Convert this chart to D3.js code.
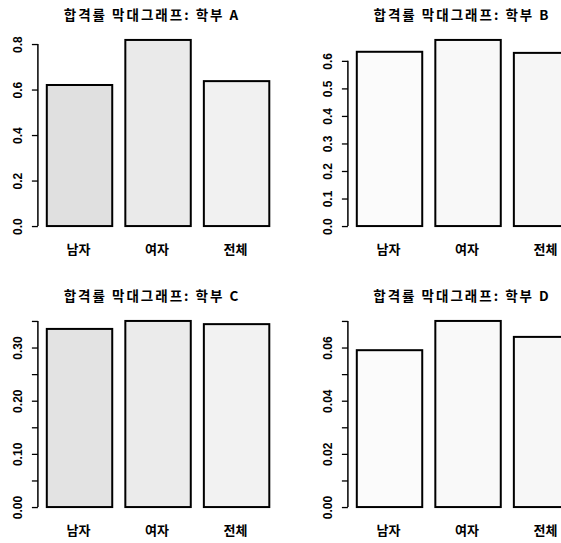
<!DOCTYPE html>
<html>
<head>
<meta charset="utf-8">
<script src="https://cdn.jsdelivr.net/npm/d3@7/dist/d3.min.js"></script>
<style>
  body { margin: 0; background: #fff; }
  text { fill: #000; }
</style>
</head>
<body>
<svg id="chart" width="561" height="543"></svg>
<script>
// categories and values
const categories = ['남자', '여자', '전체'];
const depts = ['A', 'B', 'C', 'D'];
const rateA = [0.620, 0.818, 0.637];
const rateB = [0.633, 0.676, 0.629];
const rateC = [0.335, 0.350, 0.344];
const rateD = [0.059, 0.070, 0.064];

// y-axis ticks and their labels ('' = tick without label)
const ticksA = [0, 0.2, 0.4, 0.6, 0.8];
const labelsA = ['0.0', '0.2', '0.4', '0.6', '0.8'];
const ticksB = [0, 0.1, 0.2, 0.3, 0.4, 0.5, 0.6];
const labelsB = ['0.0', '0.1', '0.2', '0.3', '0.4', '0.5', '0.6'];
const ticksC = [0, 0.05, 0.10, 0.15, 0.20, 0.25, 0.30, 0.35];
const labelsC = ['0.00', '', '0.10', '', '0.20', '', '0.30', ''];
const ticksD = [0, 0.01, 0.02, 0.03, 0.04, 0.05, 0.06, 0.07];
const labelsD = ['0.00', '', '0.02', '', '0.04', '', '0.06', ''];

const panels = [
  { dept: depts[0], values: rateA, ticks: ticksA, labels: labelsA, ox: 0,   oy: 0,   fills: ['#e0e0e0', '#eaeaea', '#f1f1f1'] },
  { dept: depts[1], values: rateB, ticks: ticksB, labels: labelsB, ox: 310, oy: 0,   fills: ['#fbfbfb', '#f8f8f8', '#f6f6f6'] },
  { dept: depts[2], values: rateC, ticks: ticksC, labels: labelsC, ox: 0,   oy: 281, fills: ['#e3e3e3', '#ebebeb', '#f2f2f2'] },
  { dept: depts[3], values: rateD, ticks: ticksD, labels: labelsD, ox: 310, oy: 281, fills: ['#fbfbfb', '#f9f9f9', '#f7f7f7'] }
];

const svg = d3.select('#chart');

// plot region inside one panel (R barplot style: 4% extension)
const plotLeft = 37.9, plotRight = 278.2, plotTop = 32.5, plotBottom = 233.5;
const barWidth = 1, space = 0.2;

panels.forEach(p => {
  const g = svg.append('g').attr('transform', `translate(${p.ox},${p.oy})`);

  const n = p.values.length;
  const xMax = n * (barWidth + space);
  const x = d3.scaleLinear()
    .domain([space - 0.04 * (xMax - space), xMax + 0.04 * (xMax - space)])
    .range([plotLeft, plotRight]);
  const vMax = d3.max(p.values);
  const y = d3.scaleLinear()
    .domain([-0.04 * vMax, 1.04 * vMax])
    .range([plotBottom, plotTop]);

  // bars
  g.selectAll('rect.bar')
    .data(p.values)
    .join('rect')
    .attr('class', 'bar')
    .attr('x', (d, i) => x(space + i * (barWidth + space)))
    .attr('width', (d, i) => x(barWidth) - x(0))
    .attr('y', d => y(d))
    .attr('height', d => y(0) - y(d))
    .attr('fill', (d, i) => p.fills[i])
    .attr('stroke', '#000')
    .attr('stroke-width', 2);

  // y axis
  const axis = d3.axisLeft(y)
    .tickValues(p.ticks)
    .tickSize(6)
    .tickSizeOuter(0)
    .tickFormat((d, i) => p.labels[i]);
  const ag = g.append('g')
    .attr('transform', `translate(${plotLeft},0)`)
    .call(axis);
  ag.select('.domain')
    .attr('d', `M0,${y(p.ticks[0])}V${y(p.ticks[p.ticks.length - 1])}`)
    .attr('stroke-width', 1.5);
  ag.selectAll('.tick line').attr('stroke-width', 1.3);
  ag.selectAll('.tick text')
    .attr('x', null).attr('dy', null)
    .attr('transform', 'translate(-20,0) rotate(-90)')
    .attr('text-anchor', 'middle')
    .attr('dominant-baseline', 'central')
    .style('font-family', '"Liberation Sans", Arial, sans-serif')
    .style('font-size', '12px')
    .style('font-weight', 'bold');

  // category labels
  g.selectAll('text.cat')
    .data(categories)
    .join('text')
    .attr('class', 'cat')
    .attr('x', (d, i) => x(space + i * (barWidth + space) + barWidth / 2) - 1)
    .attr('y', 248.5)
    .attr('text-anchor', 'middle')
    .attr('dominant-baseline', 'central')
    .style('font-family', '"Noto Sans CJK KR", sans-serif')
    .style('font-size', '13px')
    .style('font-weight', 'bold')
    .text(d => d);

  // title
  g.append('text')
    .attr('x', 152)
    .attr('y', 14)
    .attr('text-anchor', 'middle')
    .attr('dominant-baseline', 'central')
    .style('font-family', '"Noto Sans CJK KR", sans-serif')
    .style('font-size', '13.5px')
    .style('font-weight', 'bold')
    .style('letter-spacing', '2px')
    .text(`합격률 막대그래프: 학부 ${p.dept}`);
});
</script>
</body>
</html>
